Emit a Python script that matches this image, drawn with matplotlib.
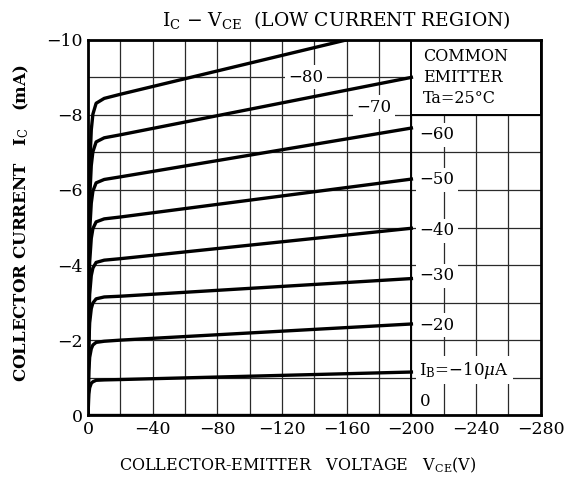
import numpy as np
import matplotlib.pyplot as plt
from matplotlib.patches import Rectangle

plt.rcParams['font.family'] = 'DejaVu Serif'
plt.rcParams['mathtext.fontset'] = 'dejavuserif'

# VCE points (V) along each curve: knee region then the straight part
vce_knee = [0, -0.5, -1, -2, -3, -5, -10, -20]
vce_full = vce_knee + [-200]
vce_top = vce_knee + [-160]   # the -80 uA curve runs off the top at -10 mA

# IC (mA), IB in uA
ib_values = [0, -10, -20, -30, -40, -50, -60, -70, -80]
ic_0 = [0, 0, 0, 0, 0, 0, 0, 0, 0]
ic_10 = [0, -0.56, -0.73, -0.85, -0.89, -0.93, -0.94, -0.95, -1.15]
ic_20 = [0, -1.18, -1.54, -1.77, -1.87, -1.94, -1.97, -2.00, -2.43]
ic_30 = [0, -1.89, -2.46, -2.84, -2.99, -3.10, -3.15, -3.17, -3.64]
ic_40 = [0, -2.48, -3.22, -3.72, -3.92, -4.07, -4.13, -4.17, -4.98]
ic_50 = [0, -3.14, -4.08, -4.71, -4.97, -5.15, -5.23, -5.28, -6.29]
ic_60 = [0, -3.77, -4.90, -5.65, -5.97, -6.19, -6.28, -6.35, -7.65]
ic_70 = [0, -4.43, -5.76, -6.65, -7.02, -7.28, -7.39, -7.47, -9.00]
ic_80 = [0, -5.06, -6.58, -7.60, -8.02, -8.31, -8.44, -8.55, -10.0]

x_ticks = [0, -40, -80, -120, -160, -200, -240, -280]
y_ticks = [0, -2, -4, -6, -8, -10]

fig = plt.figure(figsize=(5.68, 4.8), dpi=100)
ax = fig.add_axes([0.155, 0.135, 0.797, 0.782])

ax.set_xlim(0, -280)
ax.set_ylim(0, -10)
ax.set_xticks(x_ticks)
ax.set_yticks(y_ticks)
ax.set_xticks(np.arange(0, -281, -20), minor=True)
ax.set_yticks(np.arange(0, -10.5, -1), minor=True)
ax.tick_params(which='both', length=0, labelsize=12.5, pad=4)
ax.set_axisbelow(True)
ax.grid(which='both', color='#2a2a2a', lw=0.9)
for s in ax.spines.values():
    s.set_linewidth(2)

# box for the test conditions, no grid inside it
ax.add_patch(Rectangle((-200, -8), -80, -2, facecolor='white',
                       edgecolor='black', lw=1.4, zorder=1.5))
ax.plot([-200, -200], [0, -8], color='black', lw=1.4, zorder=1.6)

for ic in [ic_0, ic_10, ic_20, ic_30, ic_40, ic_50, ic_60, ic_70]:
    ax.plot(vce_full, ic, color='black', lw=2.4, zorder=4)
ax.plot(vce_top, ic_80, color='black', lw=2.4, zorder=4)

box = dict(facecolor='white', edgecolor='none', pad=2.5)
fs = 12
ax.text(-135, -9.0, '−80', ha='center', va='center', fontsize=fs, bbox=box, zorder=3)
ax.text(-177, -8.2, '−70', ha='center', va='center', fontsize=fs, bbox=box, zorder=3)
right_labels = [('−60', -7.47), ('−50', -6.27), ('−40', -4.91), ('−30', -3.71),
                ('−20', -2.40), (r'I$_\mathrm{B}$=−10$\mu$A', -1.20), ('0', -0.37)]
for txt, yy in right_labels:
    ax.text(-205, yy, txt, ha='left', va='center', fontsize=fs, bbox=box, zorder=3)

ax.text(-207, -9.78, 'COMMON\nEMITTER\nTa=25°C', ha='left', va='top',
        fontsize=11.5, linespacing=1.3, zorder=3)

fig.text(0.593, 0.958, r'I$_\mathrm{C}$ − V$_\mathrm{CE}$  (LOW CURRENT REGION)',
         ha='center', va='center', fontsize=13.5)
fig.text(0.525, 0.03, r'COLLECTOR-EMITTER   VOLTAGE   V$_\mathrm{CE}$(V)',
         ha='center', va='center', fontsize=11.5)
fig.text(0.038, 0.535, r'COLLECTOR CURRENT   I$_\mathrm{C}$   (mA)',
         ha='center', va='center', rotation=90, fontsize=12, fontweight='bold')

fig.savefig('out.png', dpi=100)
